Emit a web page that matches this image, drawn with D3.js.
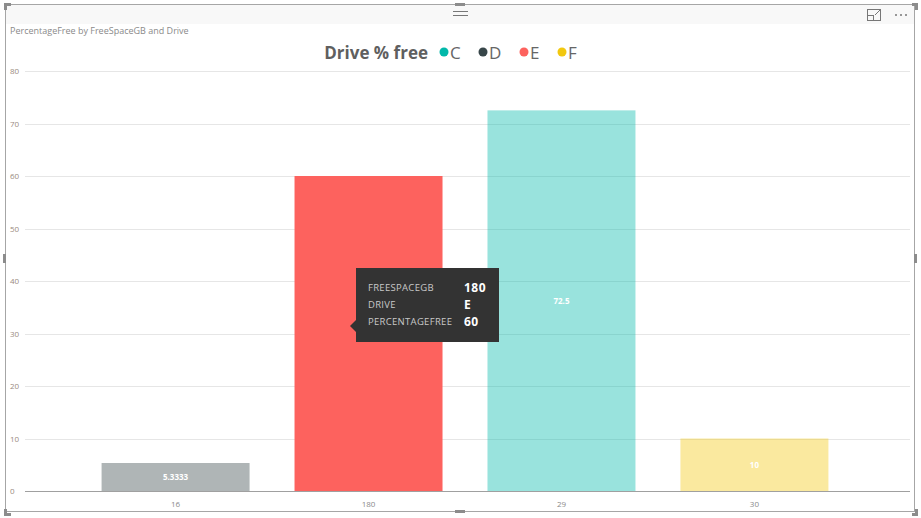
<!DOCTYPE html>
<html>
<head>
<meta charset="utf-8">
<script src="https://cdn.jsdelivr.net/npm/d3@7"></script>
<style>
  html,body{margin:0;padding:0;background:#fff;}
  svg{display:block;font-family:"Segoe UI","Open Sans","DejaVu Sans",sans-serif;}
</style>
</head>
<body>
<svg id="chart" width="921" height="518"></svg>
<script>
// data
var categories = ["16", "180", "29", "30"];
var drives     = ["D", "E", "C", "F"];
var percentFree = [5.3333, 60, 72.5, 10];
var valueLabels = ["5.3333", "60", "72.5", "10"];
var legendDrives = ["C", "D", "E", "F"];
var legendColors = ["#01B8AA", "#374649", "#FD625E", "#F2C80F"];
var yTicks = [0, 10, 20, 30, 40, 50, 60, 70, 80];
var highlighted = "E";
var tipLabels = ["FREESPACEGB", "DRIVE", "PERCENTAGEFREE"];
var tipValues = ["180", "E", "60"];

var svg = d3.select("#chart");

// visual frame
svg.append("rect").attr("x", 6).attr("y", 5).attr("width", 908).attr("height", 19).attr("fill", "#f8f8f8");
svg.append("rect").attr("x", 5.5).attr("y", 4.5).attr("width", 909).attr("height", 507)
    .attr("fill", "none").attr("stroke", "#a6a6a6").attr("stroke-width", 1);

var handles = [[4, 3, 7, 3], [4, 3, 3, 7], [912, 3, 6, 3], [915, 3, 3, 7],
               [4, 509, 3, 7], [4, 513, 7, 3], [915, 509, 3, 7], [912, 513, 6, 3],
               [455, 3, 10, 3], [455, 510, 10, 3], [3, 254, 3, 9], [914, 254, 3, 9]];
svg.selectAll("rect.handle").data(handles).enter().append("rect")
    .attr("class", "handle")
    .attr("x", function(d){ return d[0]; }).attr("y", function(d){ return d[1]; })
    .attr("width", function(d){ return d[2]; }).attr("height", function(d){ return d[3]; })
    .attr("fill", "#8c8c8c");

// header icons
var ico = svg.append("g").attr("stroke", "#777").attr("fill", "none").attr("stroke-width", 1);
ico.append("line").attr("x1", 453).attr("x2", 468).attr("y1", 11.5).attr("y2", 11.5);
ico.append("line").attr("x1", 453).attr("x2", 468).attr("y1", 15.5).attr("y2", 15.5);
ico.append("rect").attr("x", 867.5).attr("y", 9.5).attr("width", 13).attr("height", 11);
ico.append("rect").attr("x", 867.5).attr("y", 15.5).attr("width", 6).attr("height", 5);
ico.append("line").attr("x1", 875).attr("x2", 880).attr("y1", 15).attr("y2", 10);
svg.selectAll("circle.dot").data([896, 901, 906]).enter().append("circle")
    .attr("class", "dot").attr("cx", function(d){ return d; }).attr("cy", 15).attr("r", 1)
    .attr("fill", "#777");

// subtitle
svg.append("text").attr("x", 10).attr("y", 34).attr("font-size", 9).attr("fill", "#8a8a8a")
    .text("PercentageFree by FreeSpaceGB and Drive");

// scales
var plotLeft = 25, plotRight = 910;
var x = d3.scaleBand().domain(categories).range([79, 851]).paddingInner(0.233).paddingOuter(0.117);
var y = d3.scaleLinear().domain([0, 80]).range([491, 71]);
var color = d3.scaleOrdinal().domain(legendDrives).range(legendColors);

// gridlines
svg.append("g").selectAll("line").data(yTicks.slice(1)).enter().append("line")
    .attr("x1", plotLeft).attr("x2", plotRight)
    .attr("y1", function(d){ return Math.round(y(d)) + 0.5; })
    .attr("y2", function(d){ return Math.round(y(d)) + 0.5; })
    .attr("stroke", "#e6e6e6").attr("stroke-width", 1);

// y labels
svg.append("g").selectAll("text").data(yTicks).enter().append("text")
    .attr("x", 10).attr("y", function(d){ return y(d) + 3; })
    .attr("font-size", 8).attr("fill", "#9a8a80")
    .text(function(d){ return d; });

// bars
var bars = svg.append("g");
bars.selectAll("rect").data(categories).enter().append("rect")
    .attr("x", function(d){ return x(d); })
    .attr("width", x.bandwidth())
    .attr("y", function(d, i){ return y(percentFree[i]); })
    .attr("height", function(d, i){ return y(0) - y(percentFree[i]); })
    .attr("fill", function(d, i){ return color(drives[i]); })
    .attr("fill-opacity", function(d, i){ return drives[i] === highlighted ? 1 : 0.4; });

// data labels
bars.selectAll("text").data(categories).enter().append("text")
    .attr("x", function(d){ return x(d) + x.bandwidth() / 2; })
    .attr("y", function(d, i){ return (y(percentFree[i]) + y(0)) / 2 + 3; })
    .attr("text-anchor", "middle").attr("font-size", 8).attr("font-weight", "bold")
    .attr("fill", "#fff")
    .text(function(d, i){ return valueLabels[i]; });

// x axis
svg.append("line").attr("x1", plotLeft).attr("x2", plotRight).attr("y1", 491.5).attr("y2", 491.5)
    .attr("stroke", "#a0a0a0");
svg.append("g").selectAll("text").data(categories).enter().append("text")
    .attr("x", function(d){ return x(d) + x.bandwidth() / 2; })
    .attr("y", 507).attr("text-anchor", "middle").attr("font-size", 8).attr("fill", "#8a8a8a")
    .text(function(d){ return d; });

// title + legend
var legend = svg.append("g");
legend.append("text").attr("x", 428).attr("y", 59).attr("text-anchor", "end")
    .attr("font-size", 17).attr("font-weight", "bold")
    .attr("fill", "#5f5f5f").text("Drive % free");
var legX = [444, 483, 524, 562];
legendDrives.forEach(function(d, i){
    legend.append("circle").attr("cx", legX[i]).attr("cy", 52).attr("r", 4.5).attr("fill", color(d));
    legend.append("text").attr("x", legX[i] + 6).attr("y", 58.5).attr("font-size", 17)
        .attr("fill", "#666").text(d);
});

// tooltip
var tip = svg.append("g").attr("transform", "translate(356,268)");
tip.append("rect").attr("width", 143).attr("height", 74).attr("fill", "#333");
tip.append("path").attr("d", "M0,52 L-6,58 L0,64 Z").attr("fill", "#333");
tipLabels.forEach(function(l, i){
    tip.append("text").attr("x", 12).attr("y", 23 + i * 17).attr("font-size", 9.5)
        .attr("fill", "#c8c8c8").attr("letter-spacing", 0.3).text(l);
    tip.append("text").attr("x", 108).attr("y", 24 + i * 17).attr("font-size", 12)
        .attr("font-weight", "bold").attr("fill", "#fff").attr("letter-spacing", 0.5).text(tipValues[i]);
});
</script>
</body>
</html>
